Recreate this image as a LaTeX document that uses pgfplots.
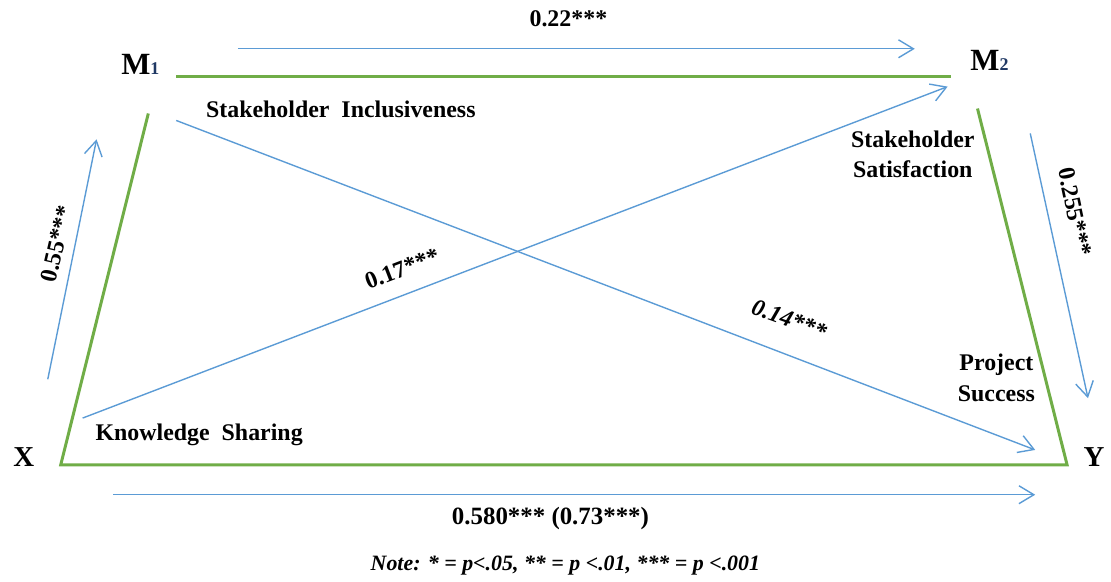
\documentclass[border=0pt]{standalone}
\usepackage{pgfplots}
\pgfplotsset{compat=1.18}
\usepackage{fontspec}
\setmainfont{Liberation Serif}
\usetikzlibrary{arrows.meta}
\definecolor{pathblue}{RGB}{91,155,213}
\definecolor{boxgreen}{RGB}{112,173,71}
\definecolor{subnavy}{RGB}{31,56,100}
\tikzset{
  lab/.style={font=\bfseries\fontsize{12}{15.5}\selectfont},
  barb/.style={pathblue, line width=0.7pt, -{Straight Barb[length=7.5pt,width=9pt]}},
}
\begin{document}
\begin{tikzpicture}
\begin{axis}[
  scale only axis,
  width=555.5pt, height=290pt,
  xmin=0, xmax=1111, ymin=0, ymax=580,
  y dir=reverse,
  hide axis,
  clip=false,
]
% keep the whole canvas in the bounding box
\path (axis cs:0,0) rectangle (axis cs:1111,580);

% frame of the model (green)
\addplot[boxgreen, line width=1.5pt] coordinates {(177,77)(955,77)};
\addplot[boxgreen, line width=1.5pt] coordinates {(149,114)(61,467)(1072,467)(982,109)};

% paths (blue arrows)
\addplot[barb] coordinates {(239,49)(919,49)};
\addplot[barb] coordinates {(48,381)(97,140)};
\addplot[barb] coordinates {(177,121)(1040,452)};
\addplot[barb] coordinates {(83,420)(952,87)};
\addplot[barb] coordinates {(1035,134)(1093,400)};
\addplot[barb] coordinates {(114,497)(1040,497)};

% variables
\node[lab] at (axis cs:141,65) {\fontsize{15.5}{16}\selectfont M\textcolor{subnavy}{\fontsize{9}{10}\selectfont 1}};
\node[lab] at (axis cs:994,61) {\fontsize{15.5}{16}\selectfont M\textcolor{subnavy}{\fontsize{9}{10}\selectfont 2}};
\node[lab] at (axis cs:24,459) {\fontsize{14.5}{15}\selectfont X};
\node[lab] at (axis cs:1099,459) {\fontsize{14.5}{15}\selectfont Y};

\node[lab, anchor=west] at (axis cs:200,110) {Stakeholder\ \ Inclusiveness};
\node[lab, anchor=west] at (axis cs:89,437) {Knowledge\ \ Sharing};
\node[lab, align=center] at (axis cs:917,155) {Stakeholder\\Satisfaction};
\node[lab, align=center] at (axis cs:1001,380) {Project\\Success};

% coefficients
\node[lab] at (axis cs:571,19) {0.22***};
\node[lab, rotate=77] at (axis cs:57,245) {0.55***};
\node[lab, rotate=21] at (axis cs:404,270) {0.17***};
\node[lab, rotate=-20] at (axis cs:793,321) {\itshape 0.14***};
\node[lab, rotate=-78] at (axis cs:1080,213) {0.255***};
\node[lab] at (axis cs:553,521) {\fontsize{12.5}{15}\selectfont 0.580*** (0.73***)};
\node[lab] at (axis cs:568,568) {\itshape\fontsize{11}{13}\selectfont Note: * = p<.05, ** = p <.01, *** = p <.001};
\end{axis}
\end{tikzpicture}
\end{document}
